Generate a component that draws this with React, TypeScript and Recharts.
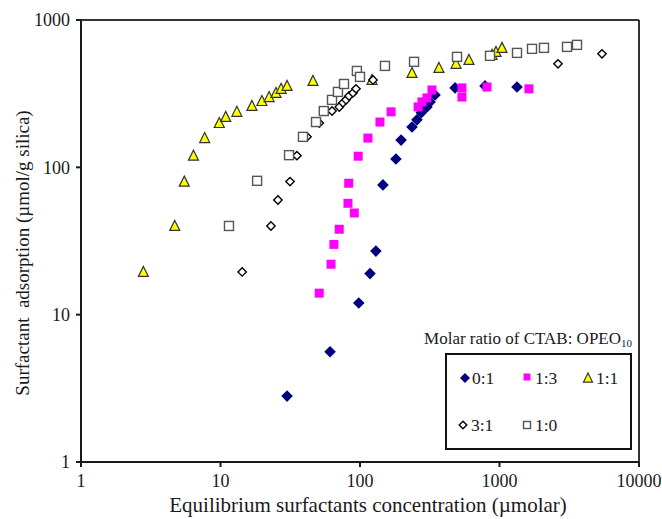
import React from 'react';
import { ScatterChart, Scatter, XAxis, YAxis, ReferenceLine } from 'recharts';

// [equilibrium concentration (µmolar), adsorption (µmol/g silica)]
const ratio01: [number, number][] = [
  [30, 2.8], [61, 5.6], [98, 12], [118, 19], [130, 27], [146, 76], [181, 114],
  [197, 153], [236, 188], [256, 210], [275, 235], [302, 257], [318, 278], [345, 310],
  [480, 346], [787, 357], [1335, 351]
];
const ratio13: [number, number][] = [
  [51, 14], [62, 22], [65, 30], [71, 38], [91, 49], [82, 57], [83, 78], [97, 119],
  [114, 158], [139, 203], [167, 238], [261, 257], [278, 278], [302, 296], [328, 335],
  [538, 346], [538, 300], [814, 351], [1626, 341]
];
const ratio11: [number, number][] = [
  [2.8, 19.5], [4.7, 40], [5.5, 80], [6.4, 120], [7.7, 158], [9.8, 200], [10.9, 220],
  [13.1, 238], [16.8, 261], [19.8, 282], [22.3, 300], [25, 320], [27.2, 341], [30, 357],
  [46, 386], [122, 392], [236, 437], [368, 473], [488, 504], [604, 536], [884, 580],
  [944, 607], [1042, 647]
];
const ratio31: [number, number][] = [
  [14.3, 19.5], [23, 40], [25.8, 60], [31.5, 80], [35.3, 120], [41.7, 161], [51, 200],
  [63, 241], [71, 257], [75.5, 274], [79.4, 287], [83.4, 305], [89, 320], [93.6, 341],
  [124, 392], [2626, 504], [5430, 589]
];
const ratio10: [number, number][] = [
  [11.5, 40], [18.3, 81], [31, 121], [39, 161], [48.4, 203], [55, 241], [63, 287],
  [69.5, 325], [76.8, 368], [95, 451], [100, 411], [151, 488], [244, 520], [496, 562],
  [855, 571], [1335, 598], [1710, 637], [2084, 647], [3048, 657], [3594, 678]
];

const xTicks = [1, 10, 100, 1000, 10000];
const yTicks = [1, 10, 100, 1000];
const seriesNames = ['0:1', '1:3', '1:1', '3:1', '1:0'];

const toPoints = (arr: [number, number][]) => arr.map(([x, y]) => ({ x, y }));

const FONT = '"Liberation Serif", "Times New Roman", serif';
const INK = '#1a1a1a';

function FilledDiamond({ cx, cy, r = 5.8 }: any) {
  return <polygon points={`${cx},${cy - r} ${cx + r},${cy} ${cx},${cy + r} ${cx - r},${cy}`} fill="#000080" />;
}
function PinkSquare({ cx, cy, s = 9 }: any) {
  return <rect x={cx - s / 2} y={cy - s / 2} width={s} height={s} fill="#ff00ff" />;
}
function YellowTriangle({ cx, cy, s = 10 }: any) {
  const h = s * 0.9;
  return (
    <polygon
      points={`${cx},${cy - h / 2 - 1} ${cx + s / 2},${cy + h / 2} ${cx - s / 2},${cy + h / 2}`}
      fill="#ffff00"
      stroke="#333"
      strokeWidth={1.2}
    />
  );
}
function OpenDiamond({ cx, cy, r = 4.2 }: any) {
  return (
    <polygon
      points={`${cx},${cy - r} ${cx + r},${cy} ${cx},${cy + r} ${cx - r},${cy}`}
      fill="#fff"
      stroke="#000"
      strokeWidth={1.4}
    />
  );
}
function OpenSquare({ cx, cy, s = 9 }: any) {
  return <rect x={cx - s / 2} y={cy - s / 2} width={s} height={s} fill="#fff" stroke="#555" strokeWidth={1.4} />;
}

function YTitle({ viewBox }: any) {
  const x = (viewBox?.x ?? 0) + 22;
  const y = (viewBox?.y ?? 0) + (viewBox?.height ?? 0) / 2 + 12;
  return (
    <text x={x} y={y} transform={`rotate(-90 ${x} ${y})`} textAnchor="middle" dominantBaseline="central"
      fontFamily={FONT} fontSize={19} fill={INK}>
      Surfactant{'\u00a0'} adsorption (µmol/g silica)
    </text>
  );
}

function XTitle({ viewBox }: any) {
  const x = (viewBox?.x ?? 0) + (viewBox?.width ?? 0) / 2 + 8;
  const y = 512;
  return (
    <text x={x} y={y} textAnchor="middle" fontFamily={FONT} fontSize={21} fill={INK}>
      Equilibrium surfactants concentration (µmolar)
    </text>
  );
}

function LegendBox() {
  const row1 = [
    { shape: <FilledDiamond cx={465} cy={378} r={5} />, tx: 472, ty: 384 },
    { shape: <PinkSquare cx={527} cy={377} s={7} />, tx: 535, ty: 384 },
    { shape: <YellowTriangle cx={588} cy={378} s={9} />, tx: 596, ty: 384 }
  ];
  const row2 = [
    { shape: <OpenDiamond cx={463} cy={425} r={3.8} />, tx: 471, ty: 431 },
    { shape: <OpenSquare cx={527} cy={425} s={7} />, tx: 535, ty: 431 }
  ];
  const items = [...row1, ...row2];
  return (
    <svg width={662} height={519} style={{ position: 'absolute', left: 0, top: 0, pointerEvents: 'none' }}>
      <text x={632} y={344} textAnchor="end" fontFamily={FONT} fontSize={17} fill={INK}>
        Molar ratio of CTAB: OPEO<tspan fontSize={11} dy={3}>10</tspan>
      </text>
      <rect x={446} y={354} width={185} height={95} fill="#fff" stroke="#111" strokeWidth={2} />
      {items.map((it, i) => (
        <g key={seriesNames[i]}>
          {it.shape}
          <text x={it.tx} y={it.ty} fontFamily={FONT} fontSize={17.5} fill={INK}>{seriesNames[i]}</text>
        </g>
      ))}
    </svg>
  );
}

export default function App() {
  const tickStyle = { fontFamily: FONT, fontSize: 18, fill: INK };
  return (
    <div style={{ position: 'absolute', left: 0, top: 0, width: 662, height: 519, background: '#fff' }}>
      <ScatterChart width={662} height={519} margin={{ top: 20, right: 23, bottom: 0, left: 0 }}>
        <XAxis
          type="number"
          dataKey="x"
          scale="log"
          domain={[1, 10000]}
          ticks={xTicks}
          allowDataOverflow
          height={57}
          tickSize={5}
          tickMargin={7}
          tick={tickStyle}
          stroke={INK}
          strokeWidth={2}
          tickFormatter={(v) => String(v)}
          label={<XTitle />}
        />
        <YAxis
          type="number"
          dataKey="y"
          scale="log"
          domain={[1, 1000]}
          ticks={yTicks}
          allowDataOverflow
          width={81}
          tickSize={5}
          tickMargin={6}
          tick={tickStyle}
          stroke={INK}
          strokeWidth={2}
          tickFormatter={(v) => String(v)}
          label={<YTitle />}
        />
        <ReferenceLine y={1000} stroke="#333" strokeWidth={2} />
        <ReferenceLine x={10000} stroke="#333" strokeWidth={2} />
        <Scatter name="0:1" data={toPoints(ratio01)} shape={<FilledDiamond />} isAnimationActive={false} />
        <Scatter name="1:3" data={toPoints(ratio13)} shape={<PinkSquare />} isAnimationActive={false} />
        <Scatter name="1:1" data={toPoints(ratio11)} shape={<YellowTriangle />} isAnimationActive={false} />
        <Scatter name="3:1" data={toPoints(ratio31)} shape={<OpenDiamond />} isAnimationActive={false} />
        <Scatter name="1:0" data={toPoints(ratio10)} shape={<OpenSquare />} isAnimationActive={false} />
      </ScatterChart>
      <LegendBox />
    </div>
  );
}
